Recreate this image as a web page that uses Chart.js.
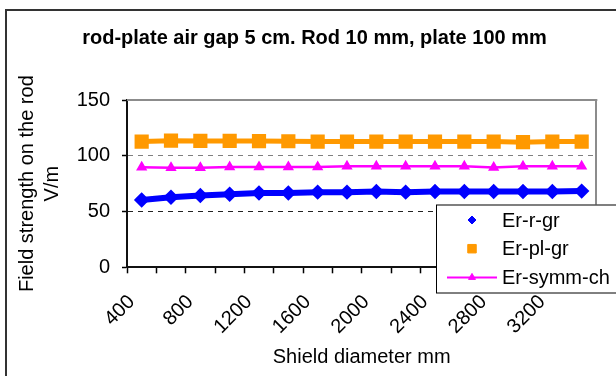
<!DOCTYPE html>
<html>
<head>
<meta charset="utf-8">
<script src="https://cdn.jsdelivr.net/npm/chart.js@4/dist/chart.umd.min.js"></script>
<style>
  html, body { margin: 0; padding: 0; background: #fff; }
  #wrap { width: 616px; height: 376px; }
</style>
</head>
<body>
<div id="wrap"><canvas id="chart" width="616" height="376"></canvas></div>
<script>
// shield diameters (mm), every other one is labelled
const diameters = [400, 600, 800, 1000, 1200, 1400, 1600, 1800, 2000, 2200, 2400, 2600, 2800, 3000, 3200, 3400];

// field strength on the rod, V/m
const erRodGr = [60.4, 62.9, 64.3, 65.6, 66.7, 66.7, 67.4, 67.4, 67.9, 67.4, 67.9, 67.9, 67.9, 67.9, 67.9, 68.3];
const erPlateGr = [112.7, 113.5, 113.3, 113.3, 113.2, 113, 112.7, 112.7, 112.7, 112.7, 112.7, 112.7, 112.7, 112.2, 112.7, 112.7];
const erSymmCh = [89.8, 89.3, 89.3, 89.9, 90, 90, 90, 90.5, 90.5, 90.6, 90.6, 90.6, 89.5, 90.6, 90.6, 90.6];

const yTicks = [0, 50, 100, 150];

const font = "'Liberation Sans', Arial, sans-serif";

//frame round the chart, top border of plot and the legend box
const framePlugin = {
  id: "frame",
  beforeDraw(chart) {
    const ctx = chart.ctx;
    ctx.save();
    ctx.fillStyle = "#fff";
    ctx.fillRect(0, 0, chart.width, chart.height);
    ctx.strokeStyle = "#333";
    ctx.lineWidth = 2;
    ctx.strokeRect(6, 10, chart.width + 20, chart.height + 20);
    ctx.restore();
  },
  beforeDatasetsDraw(chart) {
    const { ctx, chartArea } = chart;
    ctx.save();
    ctx.strokeStyle = "#8c8c8c";
    ctx.lineWidth = 2;
    ctx.beginPath();
    ctx.moveTo(chartArea.left, chartArea.top);
    ctx.lineTo(chartArea.right + 1, chartArea.top);
    ctx.stroke();
    ctx.restore();
  },
  afterDraw(chart) {
    const ctx = chart.ctx;
    const sets = chart.data.datasets;
    const left = 436, top = 204.5, bottom = 292.5;
    ctx.save();
    ctx.fillStyle = "#fff";
    ctx.fillRect(left, top, chart.width, bottom - top);
    ctx.strokeStyle = "#000";
    ctx.lineWidth = 1;
    ctx.strokeRect(left + 0.5, top + 0.5, chart.width, bottom - top);
    ctx.font = "20px " + font;
    ctx.textBaseline = "middle";
    ctx.textAlign = "left";
    sets.forEach((ds, i) => {
      const y = 220 + i * 28.7;
      if (ds.legendLine) {
        ctx.strokeStyle = ds.borderColor;
        ctx.lineWidth = 2;
        ctx.beginPath();
        ctx.moveTo(447, y);
        ctx.lineTo(497, y);
        ctx.stroke();
      }
      ctx.fillStyle = ds.borderColor;
      ctx.strokeStyle = ds.borderColor;
      ctx.lineWidth = 1;
      Chart.helpers.drawPoint(ctx, { pointStyle: ds.pointStyle, radius: ds.legendRadius, borderWidth: 1, rotation: 0 }, 472, y);
      ctx.fillStyle = "#000";
      ctx.fillText(ds.label, 502, y + 1);
    });
    ctx.restore();
  }
};

new Chart(document.getElementById("chart"), {
  type: "line",
  plugins: [framePlugin],
  data: {
    labels: diameters,
    datasets: [
      {
        label: "Er-r-gr",
        data: erRodGr,
        borderColor: "#0000ff",
        backgroundColor: "#0000ff",
        borderWidth: 6,
        pointStyle: "rectRot",
        pointRadius: 3.5,
        legendRadius: 4,
        legendLine: false
      },
      {
        label: "Er-pl-gr",
        data: erPlateGr,
        borderColor: "#ff9900",
        backgroundColor: "#ff9900",
        borderWidth: 5,
        pointStyle: "rect",
        pointRadius: 6.5,
        legendRadius: 6,
        legendLine: false
      },
      {
        label: "Er-symm-ch",
        data: erSymmCh,
        borderColor: "#ff00ff",
        backgroundColor: "#ff00ff",
        borderWidth: 2.5,
        pointStyle: "triangle",
        pointRadius: 4,
        legendRadius: 4,
        legendLine: true
      }
    ]
  },
  options: {
    responsive: false,
    animation: false,
    layout: { padding: { left: 13, right: 0, top: 0, bottom: 0 } },
    elements: {
      line: { tension: 0 },
      point: { borderWidth: 1 }
    },
    plugins: {
      legend: { display: false },
      tooltip: { enabled: false },
      title: {
        display: true,
        text: "rod-plate air gap 5 cm. Rod 10 mm, plate 100 mm",
        color: "#000",
        font: { family: font, size: 20, weight: "bold" },
        padding: { top: 26, bottom: 50 }
      }
    },
    scales: {
      x: {
        type: "category",
        offset: true,
        afterFit: (s) => { s.height = 108.7; },
        grid: {
          offset: true,
          drawOnChartArea: false,
          tickLength: 6,
          tickColor: "#000",
          tickWidth: 1.5
        },
        border: { color: "#111", width: 2 },
        ticks: {
          autoSkip: false,
          minRotation: 45,
          maxRotation: 45,
          padding: 17,
          labelOffset: -10,
          color: "#000",
          font: { family: font, size: 20 },
          callback: function (value, index) {
            return index % 2 === 0 ? this.getLabelForValue(value) : "";
          }
        },
        title: {
          display: true,
          text: "Shield diameter mm",
          color: "#000",
          font: { family: font, size: 20 },
          padding: { top: 0, bottom: 6.5 }
        }
      },
      y: {
        min: 0,
        max: 150,
        afterFit: (s) => { s.width = 114; },
        afterBuildTicks: (s) => { s.ticks = yTicks.map((v) => ({ value: v })); },
        grid: {
          color: (c) => c.tick && c.tick.value === 100 ? "#808080" : (c.tick && c.tick.value === 50 ? "#222" : "transparent"),
          tickColor: "#000",
          tickBorderDash: [],
          tickLength: 5,
          tickWidth: 1.5,
          lineWidth: 1
        },
        border: { color: "#111", width: 2, dash: [5, 5] },
        ticks: {
          padding: 12,
          color: "#000",
          font: { family: font, size: 20 }
        },
        title: {
          display: true,
          text: ["Field strength on the rod", "V/m"],
          color: "#000",
          font: { family: font, size: 20, lineHeight: 1.25 },
          padding: { top: 1.5, bottom: 0 }
        }
      },
      y2: {
        position: "right",
        min: 0,
        max: 150,
        afterFit: (s) => { s.width = 10; },
        grid: { display: false },
        border: { color: "#8c8c8c", width: 2 },
        ticks: { display: false }
      }
    }
  }
});
</script>
</body>
</html>
